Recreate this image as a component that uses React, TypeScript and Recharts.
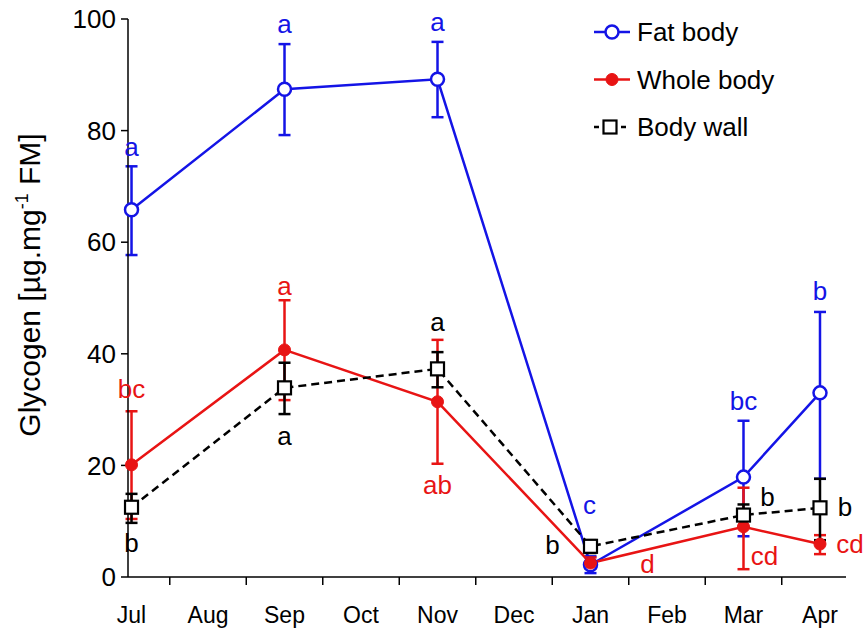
import { LineChart, Line, XAxis, YAxis, ErrorBar, Legend } from 'recharts';

const months = ['Jul', 'Aug', 'Sep', 'Oct', 'Nov', 'Dec', 'Jan', 'Feb', 'Mar', 'Apr'];
const sampledMonths = ['Jul', 'Sep', 'Nov', 'Jan', 'Mar', 'Apr'];
const yTicks = [0, 20, 40, 60, 80, 100];

const fatBody = [65.8, 87.4, 89.2, 2.2, 17.9, 33.0];
const fatBodyLow = [57.7, 79.2, 82.4, 0.7, 7.3, 17.6];
const fatBodyHigh = [73.6, 95.5, 95.9, 3.7, 28.0, 47.5];
const fatBodyLetters = ['a', 'a', 'a', 'c', 'bc', 'b'];

const wholeBody = [20.1, 40.7, 31.4, 2.5, 9.0, 5.9];
const wholeBodyLow = [10.4, 31.7, 20.3, 1.5, 1.4, 4.1];
const wholeBodyHigh = [29.7, 49.6, 42.5, 3.5, 16.0, 7.5];
const wholeBodyLetters = ['bc', 'a', 'ab', 'd', 'cd', 'cd'];

const bodyWall = [12.5, 33.9, 37.3, 5.5, 11.1, 12.4];
const bodyWallLow = [9.7, 29.2, 34.0, 4.3, 9.0, 6.6];
const bodyWallHigh = [14.9, 38.4, 40.3, 6.6, 13.0, 17.6];
const bodyWallLetters = ['b', 'a', 'a', 'b', 'b', 'b'];

const BLUE = '#1414e6';
const RED = '#e81414';
const BLACK = '#000';
const FONT = '"Liberation Sans", Arial, Helvetica, sans-serif';

// letter placement relative to each marker (dx, baseline dy) in px
const fatOffsets = [[0, -54], [0, -56], [0, -48], [-1, -51], [0, -67], [0, -93]];
const wholeOffsets = [[0, -67], [0, -55], [0, 92], [57, 10], [21, 38], [30, 9]];
const wallOffsets = [[0, 45], [0, 57], [0, -38], [-38, 8], [24, -9], [25, 8]];

const rows = sampledMonths.map((m, i) => ({
  x: months.indexOf(m),
  fat: fatBody[i],
  fatErr: [fatBody[i] - fatBodyLow[i], fatBodyHigh[i] - fatBody[i]],
  whole: wholeBody[i],
  wholeErr: [wholeBody[i] - wholeBodyLow[i], wholeBodyHigh[i] - wholeBody[i]],
  wall: bodyWall[i],
  wallErr: [bodyWall[i] - bodyWallLow[i], bodyWallHigh[i] - bodyWall[i]],
}));

const xTicks = months.flatMap((_, i) => (i < months.length - 1 ? [i, i + 0.5] : [i]));

type Shape = 'open-circle' | 'dot' | 'square';

const Marker = ({ shape, cx, cy, color }: { shape: Shape; cx: number; cy: number; color: string }) => {
  if (shape === 'open-circle') return <circle cx={cx} cy={cy} r={6.5} fill="#fff" stroke={color} strokeWidth={2.5} />;
  if (shape === 'dot') return <circle cx={cx} cy={cy} r={6} fill={color} stroke={color} strokeWidth={1} />;
  return <rect x={cx - 6.5} y={cy - 6.5} width={13} height={13} fill="#fff" stroke={color} strokeWidth={2.2} />;
};

const makeDot = (shape: Shape, color: string, letters: string[], offsets: number[][], id: string) => (props: any) => {
  const { cx, cy, index } = props;
  if (cx == null || cy == null) return <g key={`${id}-${index}`} />;
  const [dx, dy] = offsets[index] || [0, 0];
  return (
    <g key={`${id}-${index}`}>
      <Marker shape={shape} cx={cx} cy={cy} color={color} />
      <text x={cx + dx} y={cy + dy} textAnchor="middle" fontSize={26} fontFamily={FONT} fill={color}>
        {letters[index]}
      </text>
    </g>
  );
};

const XTick = (props: any) => {
  const { x, y, payload } = props;
  const v = payload.value;
  if (Number.isInteger(v)) {
    return (
      <text x={x} y={y + 46} textAnchor="middle" fontSize={23} fontFamily={FONT} fill="#000">
        {months[v]}
      </text>
    );
  }
  return <line x1={x} y1={y} x2={x} y2={y + 8} stroke="#000" strokeWidth={1.5} />;
};

const YTitle = () => (
  <text transform="translate(40, 285) rotate(-90)" textAnchor="middle" fontSize={30} fontFamily={FONT} fill="#000">
    <tspan>Glycogen [µg.mg</tspan>
    <tspan fontSize={18} dy={-12}>-1</tspan>
    <tspan dy={12}> FM]</tspan>
  </text>
);

const legendItems: { name: string; color: string; shape: Shape; dashed: boolean }[] = [
  { name: 'Fat body', color: BLUE, shape: 'open-circle', dashed: false },
  { name: 'Whole body', color: RED, shape: 'dot', dashed: false },
  { name: 'Body wall', color: BLACK, shape: 'square', dashed: true },
];

const renderLegend = () => (
  <svg width={270} height={150} style={{ display: 'block' }}>
    {legendItems.map((item, i) => {
      const y = 32 + i * 47.5;
      return (
        <g key={item.name}>
          {item.dashed ? (
            <>
              <line x1={4} y1={y} x2={9} y2={y} stroke={item.color} strokeWidth={2.5} />
              <line x1={31} y1={y} x2={36} y2={y} stroke={item.color} strokeWidth={2.5} />
            </>
          ) : (
            <line x1={4} y1={y} x2={40} y2={y} stroke={item.color} strokeWidth={2.5} />
          )}
          <Marker shape={item.shape} cx={item.dashed ? 20 : 22} cy={y} color={item.color} />
          <text x={47} y={y + 9} fontSize={26} fontFamily={FONT} fill="#000">
            {item.name}
          </text>
        </g>
      );
    })}
  </svg>
);

export default function App() {
  return (
    <div style={{ position: 'absolute', left: 0, top: 0, background: '#fff' }}>
      <LineChart width={863} height={630} data={rows} margin={{ top: 19, right: 17, bottom: 0, left: 0 }}>
        <XAxis
          dataKey="x"
          type="number"
          domain={[-0.046, 9.34]}
          ticks={xTicks}
          interval={0}
          tick={<XTick />}
          tickLine={false}
          tickSize={0}
          tickMargin={0}
          height={53}
          axisLine={{ stroke: '#000', strokeWidth: 1.5 }}
        />
        <YAxis
          type="number"
          domain={[0, 100]}
          ticks={yTicks}
          interval={0}
          width={128}
          tickSize={7}
          tickMargin={5}
          tick={{ fill: '#000', fontSize: 26, fontFamily: FONT }}
          tickLine={{ stroke: '#000', strokeWidth: 1.5 }}
          axisLine={{ stroke: '#000', strokeWidth: 1.5 }}
          label={{ content: () => <YTitle /> }}
        />
        <Legend
          layout="vertical"
          align="center"
          verticalAlign="middle"
          content={renderLegend}
          wrapperStyle={{ position: 'absolute', left: 590, top: 0, width: 270, height: 150 }}
        />
        <Line
          dataKey="fat"
          name="Fat body"
          stroke={BLUE}
          strokeWidth={2.5}
          isAnimationActive={false}
          dot={makeDot('open-circle', BLUE, fatBodyLetters, fatOffsets, 'fat')}
          activeDot={false}
        >
          <ErrorBar dataKey="fatErr" direction="y" width={6} stroke={BLUE} strokeWidth={2.5} isAnimationActive={false} />
        </Line>
        <Line
          dataKey="whole"
          name="Whole body"
          stroke={RED}
          strokeWidth={2.5}
          isAnimationActive={false}
          dot={makeDot('dot', RED, wholeBodyLetters, wholeOffsets, 'whole')}
          activeDot={false}
        >
          <ErrorBar dataKey="wholeErr" direction="y" width={6} stroke={RED} strokeWidth={2.5} isAnimationActive={false} />
        </Line>
        <Line
          dataKey="wall"
          name="Body wall"
          stroke={BLACK}
          strokeWidth={2.5}
          strokeDasharray="8 5"
          isAnimationActive={false}
          dot={makeDot('square', BLACK, bodyWallLetters, wallOffsets, 'wall')}
          activeDot={false}
        >
          <ErrorBar dataKey="wallErr" direction="y" width={6} stroke={BLACK} strokeWidth={2.5} isAnimationActive={false} />
        </Line>
      </LineChart>
    </div>
  );
}
